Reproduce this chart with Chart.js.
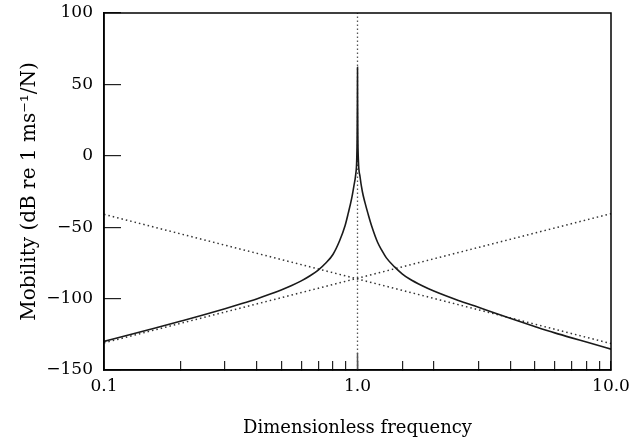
<!DOCTYPE html>
<html><head><meta charset="utf-8">
<script src="https://cdn.jsdelivr.net/npm/chart.js@4"></script>
<style>html,body{margin:0;padding:0;background:#fff}</style>
</head><body>
<canvas id="c" width="631" height="442"></canvas>
<script>
// Solid curve (response)
const solidX = [0.1, 0.125, 0.15, 0.2, 0.25, 0.3, 0.35, 0.4, 0.45, 0.5, 0.55, 0.6, 0.65, 0.7, 0.75, 0.8, 0.85, 0.893, 0.92, 0.948, 0.968, 0.984, 0.993, 0.997, 0.999, 1.0, 1.001, 1.003, 1.008, 1.023, 1.045, 1.071, 1.1, 1.138, 1.2, 1.25, 1.3, 1.4, 1.5, 1.6, 1.8, 2.0, 2.5, 3.0, 3.5, 4.0, 5.0, 6.0, 7.0, 8.0, 9.0, 10];
const solidY = [-130, -125.5, -121.8, -115.9, -111.2, -107.1, -103.5, -100.2, -97.0, -93.9, -90.8, -87.6, -84.0, -80.0, -75.1, -69.1, -59.5, -49, -40, -30, -21, -13, -3, 15, 40, 62, 40, 15, -3, -14.5, -25, -33, -40.5, -49.3, -60.5, -66.5, -71.5, -77.8, -82.6, -86.1, -91.0, -94.7, -101.3, -106.1, -110.3, -113.8, -119.5, -124.0, -127.5, -130.4, -133.0, -135.4];
// Dotted asymptotes
const stiffX = [0.1, 10];
const stiffY = [-131, -40.5];
const massX = [0.1, 10];
const massY = [-41, -131.5];
// Vertical dotted line at resonance
const resX = [1, 1];
const resY = [-150, 100];
// Axis ticks
const xTickLabels = [[0.1, '0.1'], [1, '1.0'], [10, '10.0']];
const xMajorTicks = [1];
const yMin = -150, yMax = 100, yStep = 50;

const pts = (xs, ys) => xs.map((x, i) => ({x: x, y: ys[i]}));
const FONT = "'DejaVu Serif', serif";

const framePlugin = {
  id: 'frame',
  afterDraw(chart) {
    const {ctx, chartArea: a, scales} = chart;
    ctx.save();
    ctx.strokeStyle = '#555';
    ctx.lineWidth = 1.5;
    xMajorTicks.forEach(v => {
      const px = scales.x.getPixelForValue(v);
      ctx.beginPath(); ctx.moveTo(px, a.bottom); ctx.lineTo(px, a.bottom - 17); ctx.stroke();
    });
    ctx.strokeStyle = '#000';
    ctx.lineWidth = 1.5;
    ctx.strokeRect(a.left, a.top, a.right - a.left, a.bottom - a.top);
    ctx.restore();
  }
};

new Chart(document.getElementById('c'), {
  type: 'line',
  data: {
    datasets: [
      {data: pts(solidX, solidY), borderColor: '#1a1a1a', borderWidth: 1.6, pointRadius: 0, cubicInterpolationMode: 'monotone', fill: false},
      {data: pts(stiffX, stiffY), borderColor: '#333', borderWidth: 1.5, borderDash: [1.5, 3], pointRadius: 0, fill: false},
      {data: pts(massX, massY), borderColor: '#333', borderWidth: 1.5, borderDash: [1.5, 3], pointRadius: 0, fill: false},
      {data: pts(resX, resY), borderColor: '#555', borderWidth: 1.3, borderDash: [1.5, 2.5], pointRadius: 0, fill: false}
    ]
  },
  options: {
    responsive: false,
    devicePixelRatio: 1,
    animation: false,
    layout: {padding: {left: 0, right: 20, top: 13, bottom: 0}},
    plugins: {legend: {display: false}, tooltip: {enabled: false}},
    scales: {
      x: {
        type: 'logarithmic', min: 0.1, max: 10, position: 'bottom',
        border: {display: true, color: '#000', width: 1.5},
        grid: {drawOnChartArea: false, drawTicks: true, tickLength: -9, color: '#222', lineWidth: 1.2},
        ticks: {
          autoSkip: false, maxRotation: 0, minRotation: 0, padding: 15, color: '#000',
          font: {family: FONT, size: 17},
          callback: function(v) {
            for (const [tv, lab] of xTickLabels) { if (Math.abs(v - tv) < tv * 1e-6) return lab; }
            return '';
          }
        },
        title: {display: true, text: 'Dimensionless frequency', color: '#000', font: {family: FONT, size: 18}, padding: {top: 0, bottom: 3}},
        afterFit: s => { s.height = 72; s.paddingLeft = 0; s.paddingRight = 0; s.paddingTop = 0; s.paddingBottom = 0; }
      },
      y: {
        type: 'linear', min: yMin, max: yMax,
        border: {display: true, color: '#000', width: 1.5},
        grid: {drawOnChartArea: false, drawTicks: true, tickLength: -17, color: '#222', lineWidth: 1.2},
        ticks: {
          stepSize: yStep, padding: 28, color: '#000', font: {family: FONT, size: 17},
          callback: v => (v < 0 ? '\u2212' + Math.abs(v) : String(v))
        },
        title: {display: true, text: 'Mobility (dB re 1 ms\u207B\u00B9/N)', color: '#000', font: {family: FONT, size: 20}, padding: {top: 18, bottom: 0}},
        afterFit: s => { s.width = 104; s.paddingLeft = 0; s.paddingRight = 0; s.paddingTop = 0; s.paddingBottom = 0; }
      }
    }
  },
  plugins: [framePlugin]
});
</script>
</body></html>
